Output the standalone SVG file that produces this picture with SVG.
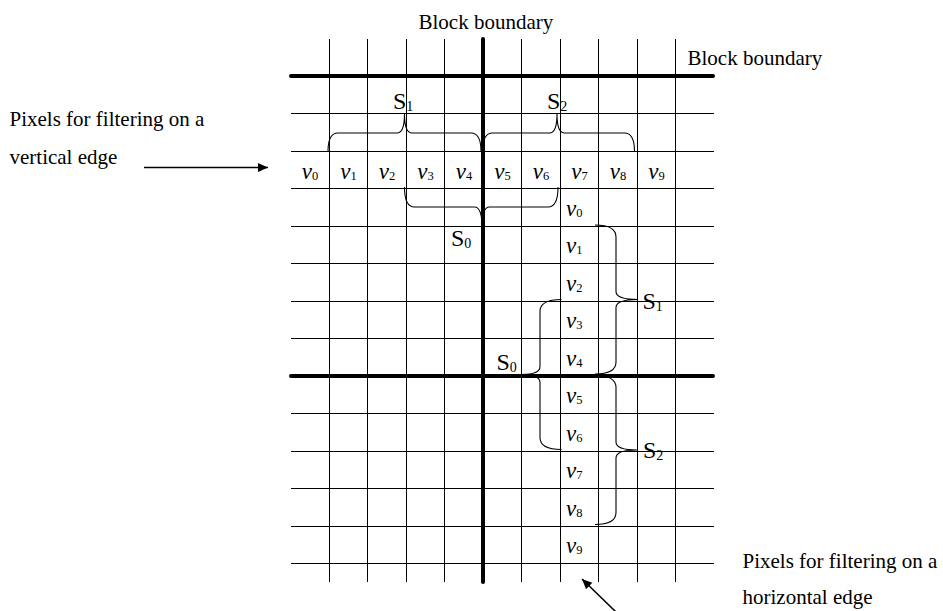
<svg xmlns="http://www.w3.org/2000/svg" width="943" height="611" viewBox="0 0 943 611">
<style>
.thin{stroke:#000;stroke-width:1;fill:none}
.thick{stroke:#000;stroke-width:4;fill:none;stroke-linecap:round}
.brace{stroke:#000;stroke-width:1.1;fill:none}
.lbl{font-family:"Liberation Serif","Times New Roman",serif;font-size:21px;fill:#000}
.v{font-family:"Liberation Serif","Times New Roman",serif;font-size:23px;font-style:italic;fill:#000}
.sub{font-style:normal;font-size:12.5px}
.s{font-family:"Liberation Serif","Times New Roman",serif;font-size:24px;fill:#000}
.ssub{font-size:14px}
.arr{stroke:#000;stroke-width:1.5;fill:none}
</style>
<defs>
<marker id="ah" markerUnits="userSpaceOnUse" markerWidth="11" markerHeight="10" refX="10" refY="4.5" orient="auto">
<path d="M0,0 L10,4.5 L0,9 z" fill="#000"/>
</marker>
</defs>
<g id="grid">
<g class="thin">
<line x1="329.5" y1="39" x2="329.5" y2="582"/>
<line x1="367.5" y1="39" x2="367.5" y2="582"/>
<line x1="406.5" y1="39" x2="406.5" y2="582"/>
<line x1="444.5" y1="39" x2="444.5" y2="582"/>
<line x1="521.5" y1="39" x2="521.5" y2="582"/>
<line x1="560.5" y1="39" x2="560.5" y2="582"/>
<line x1="598.5" y1="39" x2="598.5" y2="582"/>
<line x1="637.5" y1="39" x2="637.5" y2="582"/>
<line x1="675.5" y1="39" x2="675.5" y2="582"/>
<line x1="291" y1="113.5" x2="714" y2="113.5"/>
<line x1="291" y1="151.5" x2="714" y2="151.5"/>
<line x1="291" y1="188.5" x2="714" y2="188.5"/>
<line x1="291" y1="226.5" x2="714" y2="226.5"/>
<line x1="291" y1="263.5" x2="714" y2="263.5"/>
<line x1="291" y1="301.5" x2="714" y2="301.5"/>
<line x1="291" y1="338.5" x2="714" y2="338.5"/>
<line x1="291" y1="413.5" x2="714" y2="413.5"/>
<line x1="291" y1="451.5" x2="714" y2="451.5"/>
<line x1="291" y1="488.5" x2="714" y2="488.5"/>
<line x1="291" y1="526.5" x2="714" y2="526.5"/>
<line x1="291" y1="563.5" x2="714" y2="563.5"/>
</g>
<g class="thick">
<line x1="483" y1="39" x2="483" y2="582"/>
<line x1="291" y1="76" x2="713" y2="76"/>
<line x1="291" y1="376" x2="713" y2="376"/>
</g>
</g>
<g id="labels">
<text class="lbl" x="418.5" y="28.5">Block boundary</text>
<text class="lbl" x="687.5" y="65">Block boundary</text>
<text class="lbl" x="9.5" y="126">Pixels for filtering on a</text>
<text class="lbl" x="9.5" y="163.5">vertical edge</text>
<text class="lbl" x="742.5" y="567.5">Pixels for filtering on a</text>
<text class="lbl" x="742.5" y="603.5">horizontal edge</text>
</g>
<g id="row-pixels" text-anchor="middle">
<text class="v" x="310" y="179">v<tspan class="sub" dy="1">0</tspan></text>
<text class="v" x="348.5" y="179">v<tspan class="sub" dy="1">1</tspan></text>
<text class="v" x="387" y="179">v<tspan class="sub" dy="1">2</tspan></text>
<text class="v" x="425.5" y="179">v<tspan class="sub" dy="1">3</tspan></text>
<text class="v" x="464" y="179">v<tspan class="sub" dy="1">4</tspan></text>
<text class="v" x="502.5" y="179">v<tspan class="sub" dy="1">5</tspan></text>
<text class="v" x="541" y="179">v<tspan class="sub" dy="1">6</tspan></text>
<text class="v" x="579.5" y="179">v<tspan class="sub" dy="1">7</tspan></text>
<text class="v" x="618" y="179">v<tspan class="sub" dy="1">8</tspan></text>
<text class="v" x="656.5" y="179">v<tspan class="sub" dy="1">9</tspan></text>
</g>
<g id="col-pixels">
<text class="v" x="566" y="215.5">v<tspan class="sub" dy="1">0</tspan></text>
<text class="v" x="566" y="253">v<tspan class="sub" dy="1">1</tspan></text>
<text class="v" x="566" y="290.5">v<tspan class="sub" dy="1">2</tspan></text>
<text class="v" x="566" y="328">v<tspan class="sub" dy="1">3</tspan></text>
<text class="v" x="566" y="365.5">v<tspan class="sub" dy="1">4</tspan></text>
<text class="v" x="566" y="403">v<tspan class="sub" dy="1">5</tspan></text>
<text class="v" x="566" y="440.5">v<tspan class="sub" dy="1">6</tspan></text>
<text class="v" x="566" y="478">v<tspan class="sub" dy="1">7</tspan></text>
<text class="v" x="566" y="515.5">v<tspan class="sub" dy="1">8</tspan></text>
<text class="v" x="566" y="553">v<tspan class="sub" dy="1">9</tspan></text>
</g>
<g id="braces" class="brace">
<path d="M328,151.5 Q328,133 338,133 L397,133 Q404.5,133 404.5,114 Q404.5,133 412,133 L471,133 Q481,133 481,151.5"/>
<path d="M482.5,151.5 Q482.5,133 492.5,133 L549.5,133 Q557,133 557,114 Q557,133 564.5,133 L624.5,133 Q634.5,133 634.5,151.5"/>
<path d="M404.5,187 Q404.5,207 414.5,207 L474.5,207 Q482,207 482,227 Q482,207 489.5,207 L548,207 Q558,207 558,187"/>
<path d="M595,225 Q616,225 616,237 L616,291.5 Q616,299.5 638,299.5 Q616,299.5 616,307.5 L616,362 Q616,374 595,374"/>
<path d="M595,375.5 Q616,375.5 616,387.5 L616,442 Q616,450 637,450 Q616,450 616,458 L616,512.5 Q616,524.5 595,524.5"/>
<path d="M561.5,299.5 Q540,299.5 540,311.5 L540,366.5 Q540,374.5 521.5,374.5 Q540,374.5 540,382.5 L540,437.5 Q540,449.5 561.5,449.5"/>
</g>
<g id="set-labels">
<text class="s" x="393" y="109">S<tspan class="ssub" dy="2">1</tspan></text>
<text class="s" x="547" y="109">S<tspan class="ssub" dy="2">2</tspan></text>
<text class="s" x="451" y="246">S<tspan class="ssub" dy="2">0</tspan></text>
<text class="s" x="496.5" y="370">S<tspan class="ssub" dy="2">0</tspan></text>
<text class="s" x="642.5" y="308.5">S<tspan class="ssub" dy="2">1</tspan></text>
<text class="s" x="643" y="458">S<tspan class="ssub" dy="2">2</tspan></text>
</g>
<g id="connectors">
<line class="arr" x1="144" y1="167.5" x2="268" y2="167.5" marker-end="url(#ah)"/>
<line class="arr" x1="616" y1="612" x2="582" y2="579" marker-end="url(#ah)"/>
</g>
</svg>
